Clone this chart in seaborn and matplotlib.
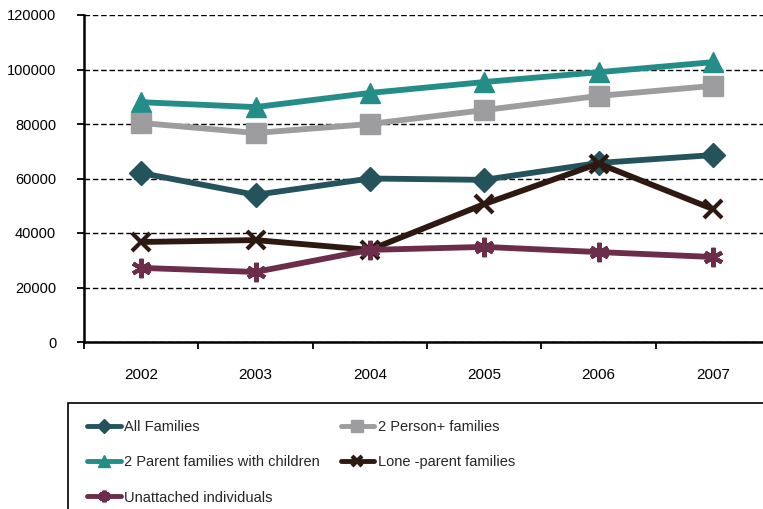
import matplotlib
matplotlib.use("Agg")
import matplotlib.pyplot as plt
from matplotlib import font_manager
from matplotlib.patches import Rectangle
import pandas as pd
import seaborn as sns

years = ["2002", "2003", "2004", "2005", "2006", "2007"]
all_families = [62000, 54000, 60000, 59500, 65700, 68600]
two_person_plus = [80400, 76700, 80000, 85100, 90300, 94000]
two_parent_children = [88000, 86200, 91400, 95400, 99000, 102700]
lone_parent = [36700, 37400, 33800, 50600, 65500, 48800]
unattached = [27200, 25700, 33800, 34900, 33000, 31200]

series_names = [
    "All Families",
    "2 Person+ families",
    "2 Parent families with children",
    "Lone -parent families",
    "Unattached individuals",
]
series_values = [all_families, two_person_plus, two_parent_children,
                 lone_parent, unattached]
colors = ["#24535B", "#9D9C9E", "#248D88", "#2E1912", "#6C2D4A"]
markers = ["D", "s", "^", "x", (6, 2, 0)]
marker_sizes = [12, 14, 15, 13, 14]
zorders = [3, 5, 4, 6, 7]

rows = []
for name, vals in zip(series_names, series_values):
    for i, (yr, v) in enumerate(zip(years, vals)):
        rows.append({"pos": i, "year": yr, "value": v, "series": name})
df = pd.DataFrame(rows)

sns.set_theme(style="white")
installed = {f.name for f in font_manager.fontManager.ttflist}
family = "Liberation Sans Narrow" if "Liberation Sans Narrow" in installed else "Liberation Sans"
plt.rcParams["font.family"] = [family, "DejaVu Sans"]

W, H = 763, 509
fig = plt.figure(figsize=(W / 100, H / 100), dpi=100)
ax = fig.add_axes([84 / W, (H - 342) / H, 686 / W, 327 / H])

sns.lineplot(data=df, x="pos", y="value", hue="series", hue_order=series_names,
             palette=colors, ax=ax, legend=False, linewidth=4.2,
             markers=False, dashes=False, estimator=None, sort=False)

# markers on top of each line, with per-series size and stacking
for line, name, c, m, ms, z in zip(ax.get_lines(), series_names, colors,
                                   markers, marker_sizes, zorders):
    line.set_marker(m)
    line.set_markersize(ms)
    line.set_markerfacecolor(c)
    line.set_markeredgecolor(c)
    line.set_markeredgewidth(3.0 if m in ("x",) or isinstance(m, tuple) else 1.0)
    line.set_zorder(z)
    line.set_solid_joinstyle("miter")

ax.set_xlim(-0.5, 5.5)
ax.set_ylim(0, 120000)
ax.set_yticks(range(0, 120001, 20000))
ax.set_yticklabels([str(v) for v in range(0, 120001, 20000)])
ax.set_xticks([i - 0.5 for i in range(7)])
ax.set_xticklabels([])
ax.set_xticks(range(6), minor=True)
ax.set_xticklabels(years, minor=True)
ax.set_xlabel("")
ax.set_ylabel("")

ax.tick_params(axis="x", which="major", direction="out", length=5, width=1.3,
               color="black", bottom=True)
ax.tick_params(axis="x", which="minor", length=0, pad=19, labelsize=11)
ax.tick_params(axis="y", direction="out", length=5, width=1.3, color="black",
               left=True, pad=15, labelsize=10.5)

for lbl in ax.get_yticklabels() + ax.get_xticklabels(minor=True):
    lbl.set_color("black")

ax.grid(axis="y", color="black", linestyle=(0, (4, 2)), linewidth=1.0)
ax.grid(axis="x", visible=False)
ax.set_axisbelow(True)
for side in ("top", "right"):
    ax.spines[side].set_visible(False)
for side in ("left", "bottom"):
    ax.spines[side].set_color("black")
    ax.spines[side].set_linewidth(1.8)

# legend box
fig.patches.append(Rectangle((68 / W, -0.05), 0.95, (H - 403) / H + 0.05,
                             transform=fig.transFigure, fill=False,
                             edgecolor="black", linewidth=1.2))

handles = ax.get_lines()
order = [0, 2, 4, 1, 3]
leg = fig.legend([handles[i] for i in order], [series_names[i] for i in order],
                 loc="upper left", bbox_to_anchor=(80 / W, (H - 413) / H),
                 ncol=2, frameon=False, fontsize=10.5, handlelength=2.3,
                 handletextpad=0.25, columnspacing=1.4, labelspacing=1.45,
                 borderpad=0, markerscale=0.6)
for h in leg.legend_handles:
    h.set_linewidth(3.5)

fig.savefig("out.png", dpi=100)
